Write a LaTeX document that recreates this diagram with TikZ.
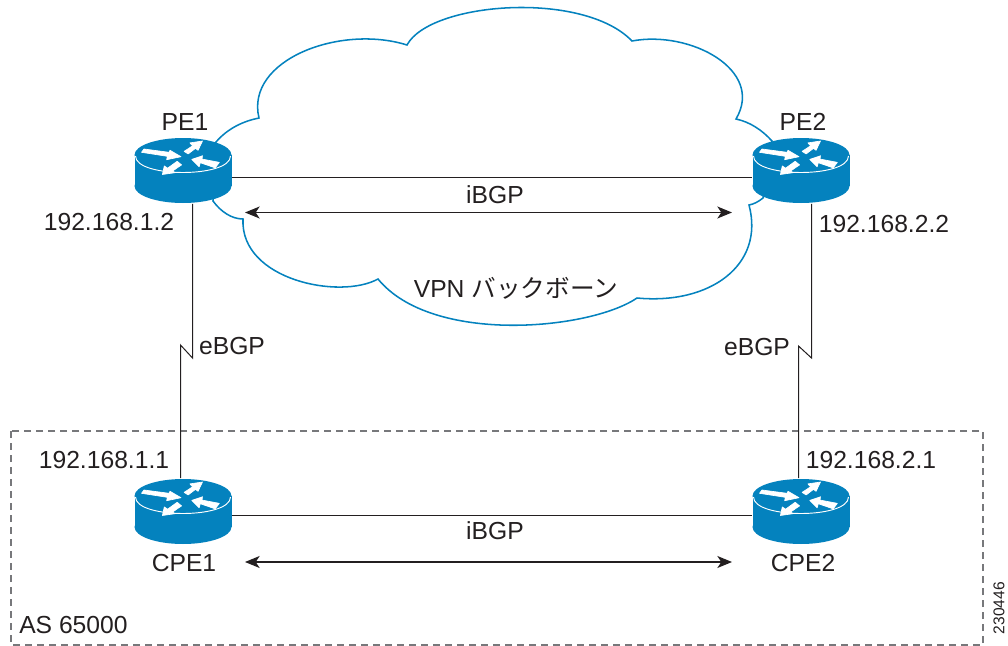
\documentclass[tikz,border=0pt]{standalone}
\usepackage{fontspec}
\setmainfont{Liberation Sans}
\newfontfamily\jpfont{Noto Sans CJK JP}
\usetikzlibrary{arrows.meta}
\definecolor{routerblue}{HTML}{0482BE}
\definecolor{inkblack}{HTML}{231F20}
\definecolor{boxgray}{HTML}{77787B}
\tikzset{
    lbl/.style={text=inkblack,font=\fontsize{18.5}{20}\selectfont,inner sep=0pt},
    routerbox/.style={minimum width=72.75pt,minimum height=49.5pt,inner sep=0pt},
    link/.style={inkblack,line width=.75pt},
    session/.style={inkblack,line width=.9pt,{Stealth[length=11pt,width=9pt,inset=3pt]}-{Stealth[length=11pt,width=9pt,inset=3pt]}},
    cloudline/.style={routerblue,line width=1.15pt},
    flow/.style={fill=white,draw=white,line width=.5pt,line join=round},
    router/.pic={
        \fill [routerblue] (0,15.5) ellipse (48.5 and 17);
        \fill [routerblue] (-48.5,-15.5) rectangle (48.5,15.5);
        \fill [routerblue] (0,-15.5) ellipse (48.5 and 17);
        \begin{scope}[shift={(0,-15.5)}]
            \draw [white,line width=.7pt] (-47.5,1) .. controls (-47.5,23) and (47.5,23) .. (47.5,1);
            \path [flow] (-39,-6) -- (-14,-2.7) -- (-13,-4.7) -- (-2,1.7) -- (-16.3,4.7) -- (-15.7,1.3) -- (-41.5,-2.7) -- cycle;
            \begin{scope}[scale=1.1]
                \path [flow] (1,-3.3) -- (4.7,-1) -- (11.3,-6) -- (13.7,-4.3) -- (17.7,-12.7) -- (6.3,-11) -- (8.7,-8.3) -- cycle;
                \path [flow] (8,4) -- (17.7,.7) -- (17.3,3.7) -- (33,6.7) -- (29.3,11.7) -- (15.7,7) -- (14.7,10.7) -- cycle;
                \path [flow] (-18.7,17.7) -- (-17,10) -- (-14,12) -- (-5.3,5.7) -- (-1.3,9) -- (-9.7,14.7) -- (-6.7,16) -- cycle;
            \end{scope}
        \end{scope}
    }
}
\begin{document}
\begin{tikzpicture}[x=.75pt,y=-.75pt]
    \useasboundingbox (0,0) rectangle (1008,646);
    % routers first as empty boxes, so that the lines can end on them
    \foreach \name/\x/\y in {pe1/183/170.5,pe2/801/170.5,cpe1/183/511.5,cpe2/801/511.5}
        \node [routerbox] (\name) at (\x,\y) {};
    % dashed AS box
    \draw [boxgray,line width=.8pt,dash pattern=on 5.5pt off 3.5pt] (11,431) rectangle (983,645);
    % cloud
    \draw [cloudline] (216,142) .. controls (228,128) and (244,121) .. (259,118)
        .. controls (245,60) and (340,24) .. (407,45)
        .. controls (430,2) and (583,-10) .. (632,41)
        .. controls (690,30) and (765,70) .. (736,119)
        .. controls (750,122) and (762,130) .. (772,141)
        -- (763,198)
        .. controls (758,202) and (754,204) .. (749,205)
        .. controls (765,265) and (710,305) .. (637,298)
        .. controls (590,330) and (432,345) .. (378,279)
        .. controls (340,300) and (240,280) .. (243,219)
        .. controls (232,219) and (221,212) .. (213,201)
        -- cycle;
    % bends and line heights
    \coordinate (bendla) at (192.5,358);
    \coordinate (bendlb) at (180.5,345);
    \coordinate (bendra) at (811.5,358);
    \coordinate (bendrb) at (798.5,346);
    \coordinate (pelevel) at (500,177.5);
    \coordinate (cpelevel) at (500,515);
    \coordinate (pearrowl) at (245,212.5);
    \coordinate (pearrowr) at (732,212.5);
    \coordinate (cpearrowl) at (245,562);
    \coordinate (cpearrowr) at (732,562);
    % links
    \draw [link] (pe1.east |- pelevel) -- (pe2.west |- pelevel);
    \draw [link] (cpe1.east |- cpelevel) -- (cpe2.west |- cpelevel);
    \draw [link] (pe1.south -| bendla) -- (bendla) -- (bendlb) -- (cpe1.north -| bendlb);
    \draw [link] (pe2.south -| bendra) -- (bendra) -- (bendrb) -- (cpe2.north -| bendrb);
    \draw [session] (pearrowl) -- (pearrowr);
    \draw [session] (cpearrowl) -- (cpearrowr);
    \foreach \name in {pe1,pe2,cpe1,cpe2}
        \pic at (\name) {router};
    % labels
    \node [lbl] (pe1lbl) at (185,122) {PE1};
    \node [lbl] (pe2lbl) at (803,122) {PE2};
    \node [lbl] (pe1ip) at (109,222) {192.168.1.2};
    \node [lbl] (pe2ip) at (884,224) {192.168.2.2};
    \node [lbl] (ibgpa) at (495,195) {iBGP};
    \node [lbl] (vpnlbl) at (516,288) {VPN {\jpfont バックボーン}};
    \node [lbl] (ebgpl) at (232,346) {eBGP};
    \node [lbl] (ebgpr) at (757,347) {eBGP};
    \node [lbl] (cpe1ip) at (104,460) {192.168.1.1};
    \node [lbl] (cpe2ip) at (871,460) {192.168.2.1};
    \node [lbl] (ibgpb) at (495,531) {iBGP};
    \node [lbl] (cpe1lbl) at (184,563) {CPE1};
    \node [lbl] (cpe2lbl) at (803,563) {CPE2};
    \node [lbl,anchor=west] (aslbl) at (19,625) {AS 65000};
    \node [lbl,font=\fontsize{11.7}{13}\selectfont,rotate=90] (figid) at (999,608) {230446};
\end{tikzpicture}
\end{document}
